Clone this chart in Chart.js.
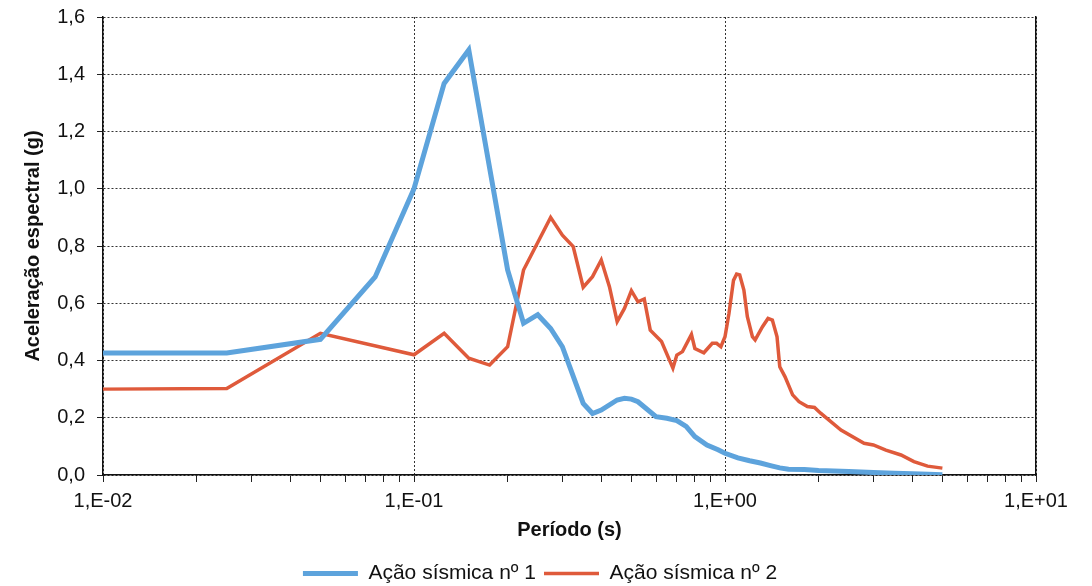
<!DOCTYPE html>
<html lang="pt">

<head>
  <meta charset="UTF-8">
  <meta name="viewport" content="width=device-width, initial-scale=1.0">
  <script src="https://cdn.jsdelivr.net/npm/chart.js@4.4.1/dist/chart.umd.min.js"></script>
  <title>Espectros de resposta</title>
  <style>
    html, body { margin: 0; padding: 0; background: #fff; }
    .container { width: 1092px; height: 586px; }
  </style>
</head>

<body>
  <div class="container">
    <canvas id="myChart" width="1092" height="586"></canvas>
  </div>

  <script>
    // Ação sísmica nº 1 - período (s) e aceleração espectral (g)
    const periodo1 = [0.01, 0.025, 0.05, 0.075, 0.1, 0.125, 0.15, 0.2, 0.225, 0.25, 0.275, 0.3, 0.35, 0.375,
      0.4, 0.45, 0.475, 0.5, 0.525, 0.6, 0.65, 0.7, 0.75, 0.8, 0.875, 0.95, 1.0, 1.1, 1.2, 1.3, 1.4, 1.5,
      1.6, 1.8, 2.0, 2.5, 3.0, 3.5, 4.0, 4.5, 5.0]
    const acel1 = [0.426, 0.426, 0.474, 0.692, 1.0, 1.368, 1.485, 0.716, 0.53, 0.56, 0.512, 0.448, 0.25, 0.215,
      0.227, 0.262, 0.268, 0.265, 0.256, 0.204, 0.198, 0.19, 0.17, 0.134, 0.105, 0.088, 0.076, 0.06, 0.05,
      0.042, 0.033, 0.025, 0.02, 0.019, 0.016, 0.012, 0.009, 0.006, 0.004, 0.003, 0.001]

    // Ação sísmica nº 2
    const periodo2 = [0.01, 0.025, 0.05, 0.1, 0.125, 0.15, 0.175, 0.2, 0.225, 0.275, 0.3, 0.325, 0.35, 0.375,
      0.4, 0.425, 0.45, 0.475, 0.5, 0.525, 0.55, 0.575, 0.625, 0.68, 0.7, 0.73, 0.78, 0.8, 0.855, 0.91,
      0.94, 0.97, 1.0, 1.03, 1.065, 1.09, 1.115, 1.15, 1.18, 1.225, 1.25, 1.32, 1.375, 1.42, 1.47, 1.5,
      1.56, 1.65, 1.73, 1.84, 1.94, 2.03, 2.36, 2.8, 3.0, 3.29, 3.68, 4.05, 4.48, 5.0]
    const acel2 = [0.300, 0.302, 0.495, 0.42, 0.495, 0.408, 0.384, 0.448, 0.716, 0.90, 0.838, 0.798, 0.656, 0.693,
      0.751, 0.658, 0.536, 0.582, 0.644, 0.605, 0.615, 0.506, 0.466, 0.373, 0.419, 0.431, 0.491, 0.442, 0.427, 0.46,
      0.46, 0.448, 0.483, 0.565, 0.68, 0.702, 0.699, 0.646, 0.553, 0.483, 0.472, 0.518, 0.547, 0.541, 0.483, 0.378,
      0.343, 0.28, 0.256, 0.239, 0.236, 0.216, 0.157, 0.111, 0.105, 0.087, 0.07, 0.047, 0.031, 0.024]

    const nomes = ['Ação sísmica nº 1', 'Ação sísmica nº 2']
    const cores = ['#5DA3DC', '#DF5A3B']

    // eixo x: décadas com marcas secundárias 2..9
    const decadas = [0.01, 0.1, 1, 10]
    const divisoes = [1, 2, 3, 4, 5, 6, 7, 8, 9]
    const yTicks = [0, 0.2, 0.4, 0.6, 0.8, 1.0, 1.2, 1.4, 1.6]

    const fonte = "'Liberation Sans', Arial, sans-serif"

    function pares(xs, ys) {
      return xs.map((x, i) => ({ x: x, y: ys[i] }))
    }

    function ehDecada(v) {
      const e = Math.log10(v)
      return Math.abs(e - Math.round(e)) < 1e-6
    }

    const ctx = document.getElementById('myChart')
    const myChart = new Chart(ctx, {
      type: 'line',
      data: {
        datasets: [{
          label: nomes[0],
          data: pares(periodo1, acel1),
          borderColor: cores[0],
          backgroundColor: cores[0],
          borderWidth: 5,
          pointRadius: 0,
          tension: 0,
          fill: false
        }, {
          label: nomes[1],
          data: pares(periodo2, acel2),
          borderColor: cores[1],
          backgroundColor: cores[1],
          borderWidth: 3.5,
          pointRadius: 0,
          tension: 0,
          fill: false
        }]
      },
      options: {
        responsive: false,
        animation: false,
        layout: { padding: { left: 0, right: 12, top: 17, bottom: -8 } },
        plugins: {
          tooltip: { enabled: false },
          legend: {
            position: 'bottom',
            labels: {
              usePointStyle: true,
              pointStyle: 'line',
              pointStyleWidth: 55,
              padding: 8,
              color: '#111',
              font: { family: fonte, size: 21 }
            }
          }
        },
        scales: {
          x: {
            type: 'logarithmic',
            min: 0.01,
            max: 10,
            afterBuildTicks: (scale) => {
              const t = []
              decadas.forEach((d, i) => {
                if (i === decadas.length - 1) { t.push({ value: d }); return }
                divisoes.forEach(m => t.push({ value: m * d }))
              })
              scale.ticks = t
            },
            afterFit: (scale) => { scale.height = 80 },
            ticks: {
              autoSkip: false,
              maxRotation: 0,
              padding: 7,
              color: '#111',
              font: { family: fonte, size: 20 },
              callback: (v) => {
                if (!ehDecada(v)) return ''
                const n = Math.round(Math.log10(v))
                return '1,E' + (n < 0 ? '-' : '+') + String(Math.abs(n)).padStart(2, '0')
              }
            },
            grid: {
              color: (c) => (c.tick && ehDecada(c.tick.value)) ? '#333' : 'rgba(0,0,0,0)',
              lineWidth: 1,
              tickColor: '#222',
              tickLength: 7,
              tickWidth: 1
            },
            border: { color: '#111', width: 1.5, dash: [2, 2] },
            title: {
              display: true,
              text: 'Período (s)',
              color: '#111',
              padding: { top: 4, bottom: 13 },
              font: { family: fonte, size: 20, weight: 'bold' }
            }
          },
          y: {
            min: 0,
            max: 1.6,
            afterBuildTicks: (scale) => { scale.ticks = yTicks.map(v => ({ value: v })) },
            afterFit: (scale) => {
              scale.width = 103
              scale.paddingTop = 0
            },
            ticks: {
              padding: 12,
              color: '#111',
              font: { family: fonte, size: 20 },
              callback: (v) => v.toFixed(1).replace('.', ',')
            },
            grid: {
              color: '#333',
              lineWidth: 1,
              tickColor: '#222',
              tickLength: 6
            },
            border: { color: '#111', width: 1.5, dash: [2, 2] },
            title: {
              display: true,
              text: 'Aceleração espectral (g)',
              color: '#111',
              padding: { top: 21, bottom: 6 },
              font: { family: fonte, size: 20, weight: 'bold' }
            }
          },
          // moldura direita
          y2: {
            position: 'right',
            min: 0,
            max: 1.6,
            afterFit: (scale) => { scale.width = 44 },
            ticks: { display: false },
            grid: { display: false, drawTicks: false },
            border: { display: true, color: '#111', width: 1.5 }
          }
        }
      }
    })
  </script>
</body>

</html>
